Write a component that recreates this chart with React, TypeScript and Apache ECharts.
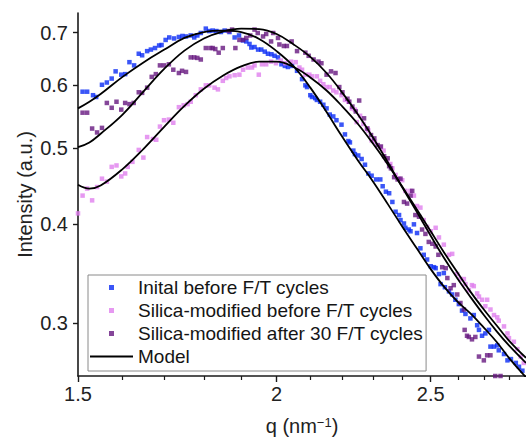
import React, { useEffect, useRef } from 'react';
import * as echarts from 'echarts';

const seriesNames = [
  'Inital before F/T cycles',
  'Silica-modified before F/T cycles',
  'Silica-modified after 30 F/T cycles',
  'Model',
];

const initialData: number[][] = [
  [1.510, 0.589], [1.520, 0.589], [1.533, 0.583], [1.540, 0.580], [1.553, 0.601], [1.564, 0.605],
  [1.575, 0.612], [1.584, 0.625], [1.597, 0.619], [1.606, 0.620], [1.616, 0.642], [1.627, 0.636],
  [1.638, 0.658], [1.646, 0.655], [1.658, 0.663], [1.667, 0.666], [1.677, 0.669], [1.687, 0.674],
  [1.693, 0.675], [1.703, 0.685], [1.712, 0.690], [1.724, 0.688], [1.736, 0.691], [1.745, 0.693],
  [1.754, 0.692], [1.766, 0.694], [1.775, 0.690], [1.783, 0.694], [1.792, 0.699], [1.805, 0.708],
  [1.814, 0.703], [1.823, 0.704], [1.833, 0.703], [1.845, 0.701], [1.855, 0.704], [1.868, 0.701],
  [1.882, 0.690], [1.894, 0.694], [1.905, 0.684], [1.914, 0.682], [1.923, 0.677], [1.928, 0.670],
  [1.937, 0.671], [1.947, 0.666], [1.956, 0.666], [1.966, 0.662], [1.975, 0.658], [1.985, 0.657],
  [1.994, 0.654], [2.004, 0.651], [2.014, 0.638], [2.024, 0.635], [2.033, 0.633], [2.045, 0.635],
  [2.060, 0.626], [2.075, 0.611], [2.085, 0.600], [2.090, 0.597], [2.100, 0.583], [2.105, 0.580],
  [2.115, 0.578], [2.120, 0.575], [2.130, 0.572], [2.140, 0.567], [2.150, 0.561], [2.160, 0.551],
  [2.171, 0.548], [2.181, 0.542], [2.197, 0.535], [2.208, 0.520], [2.219, 0.510], [2.224, 0.508],
  [2.235, 0.496], [2.240, 0.491], [2.251, 0.489], [2.262, 0.484], [2.273, 0.476], [2.284, 0.464],
  [2.295, 0.461], [2.310, 0.456], [2.324, 0.456], [2.332, 0.447], [2.343, 0.440], [2.354, 0.438],
  [2.365, 0.427], [2.376, 0.415], [2.388, 0.411], [2.393, 0.405], [2.405, 0.401], [2.410, 0.396],
  [2.422, 0.394], [2.428, 0.392], [2.440, 0.400], [2.451, 0.390], [2.463, 0.373], [2.475, 0.366],
  [2.487, 0.361], [2.500, 0.354], [2.512, 0.353], [2.518, 0.352], [2.530, 0.346], [2.536, 0.336],
  [2.548, 0.347], [2.552, 0.333], [2.567, 0.329], [2.579, 0.326], [2.591, 0.321], [2.604, 0.317],
  [2.616, 0.311], [2.629, 0.308], [2.648, 0.304], [2.661, 0.307], [2.674, 0.298], [2.681, 0.294],
  [2.693, 0.289], [2.706, 0.291], [2.720, 0.294], [2.726, 0.280], [2.740, 0.280], [2.753, 0.281],
  [2.759, 0.277], [2.780, 0.274], [2.794, 0.269], [2.808, 0.270], [2.828, 0.267], [2.841, 0.264],
  [2.855, 0.261],
];

const silicaBeforeData: number[][] = [
  [1.500, 0.413], [1.510, 0.435], [1.520, 0.444], [1.531, 0.429], [1.542, 0.446], [1.553, 0.457],
  [1.564, 0.453], [1.575, 0.473], [1.586, 0.475], [1.597, 0.460], [1.606, 0.464], [1.612, 0.473],
  [1.623, 0.480], [1.638, 0.497], [1.649, 0.486], [1.658, 0.516], [1.672, 0.513], [1.680, 0.512],
  [1.689, 0.532], [1.699, 0.542], [1.711, 0.543], [1.722, 0.538], [1.736, 0.563], [1.748, 0.566],
  [1.758, 0.568], [1.766, 0.572], [1.779, 0.583], [1.792, 0.593], [1.805, 0.600], [1.814, 0.600],
  [1.828, 0.596], [1.837, 0.593], [1.850, 0.608], [1.859, 0.613], [1.868, 0.616], [1.882, 0.618],
  [1.895, 0.619], [1.905, 0.628], [1.918, 0.632], [1.930, 0.632], [1.937, 0.636], [1.949, 0.619],
  [1.958, 0.638], [1.970, 0.638], [1.984, 0.643], [1.998, 0.640], [2.012, 0.645], [2.025, 0.640],
  [2.042, 0.643], [2.056, 0.642], [2.067, 0.632], [2.075, 0.628], [2.085, 0.619], [2.097, 0.619],
  [2.105, 0.616], [2.120, 0.616], [2.130, 0.608], [2.140, 0.602], [2.150, 0.597], [2.160, 0.597],
  [2.171, 0.591], [2.181, 0.588], [2.197, 0.583], [2.208, 0.575], [2.219, 0.572], [2.230, 0.561],
  [2.240, 0.559], [2.246, 0.539], [2.257, 0.549], [2.268, 0.536], [2.279, 0.529], [2.284, 0.526],
  [2.295, 0.511], [2.306, 0.509], [2.324, 0.501], [2.335, 0.496], [2.346, 0.482], [2.358, 0.477],
  [2.365, 0.471], [2.376, 0.462], [2.388, 0.457], [2.399, 0.455], [2.410, 0.441], [2.428, 0.441],
  [2.440, 0.435], [2.451, 0.422], [2.463, 0.420], [2.475, 0.405], [2.487, 0.397], [2.500, 0.392],
  [2.518, 0.396], [2.530, 0.385], [2.548, 0.377], [2.567, 0.366], [2.579, 0.367], [2.598, 0.346],
  [2.610, 0.341], [2.623, 0.341], [2.629, 0.336], [2.642, 0.330], [2.654, 0.335], [2.661, 0.334],
  [2.674, 0.327], [2.681, 0.324], [2.693, 0.321], [2.706, 0.315], [2.713, 0.321], [2.726, 0.312],
  [2.740, 0.307], [2.753, 0.305], [2.759, 0.302], [2.780, 0.297], [2.794, 0.291], [2.800, 0.287],
  [2.820, 0.284], [2.834, 0.278], [2.848, 0.272], [2.861, 0.267],
];

const silicaAfterData: number[][] = [
  [1.510, 0.554], [1.520, 0.554], [1.531, 0.529], [1.542, 0.523], [1.553, 0.530], [1.564, 0.570],
  [1.575, 0.562], [1.586, 0.572], [1.597, 0.559], [1.606, 0.570], [1.616, 0.568], [1.626, 0.570],
  [1.638, 0.588], [1.646, 0.587], [1.658, 0.596], [1.669, 0.615], [1.679, 0.620], [1.689, 0.636],
  [1.699, 0.636], [1.711, 0.638], [1.722, 0.628], [1.736, 0.622], [1.744, 0.626], [1.754, 0.624],
  [1.766, 0.651], [1.775, 0.651], [1.783, 0.650], [1.792, 0.647], [1.805, 0.669], [1.817, 0.669],
  [1.823, 0.669], [1.830, 0.667], [1.839, 0.660], [1.850, 0.669], [1.866, 0.703], [1.875, 0.706],
  [1.884, 0.669], [1.895, 0.685], [1.905, 0.685], [1.914, 0.689], [1.925, 0.694], [1.937, 0.706],
  [1.946, 0.699], [1.961, 0.692], [1.970, 0.697], [1.984, 0.682], [1.990, 0.699], [2.004, 0.689],
  [2.008, 0.676], [2.021, 0.673], [2.030, 0.673], [2.044, 0.682], [2.060, 0.663], [2.085, 0.660],
  [2.095, 0.654], [2.110, 0.647], [2.125, 0.643], [2.134, 0.640], [2.150, 0.619], [2.164, 0.625],
  [2.178, 0.622], [2.190, 0.597], [2.200, 0.588], [2.216, 0.577], [2.222, 0.572], [2.232, 0.564],
  [2.243, 0.556], [2.254, 0.574], [2.270, 0.545], [2.281, 0.529], [2.293, 0.519], [2.304, 0.514],
  [2.315, 0.504], [2.326, 0.502], [2.337, 0.488], [2.349, 0.485], [2.354, 0.474], [2.360, 0.471],
  [2.371, 0.459], [2.383, 0.456], [2.393, 0.457], [2.405, 0.427], [2.416, 0.425], [2.428, 0.435],
  [2.434, 0.441], [2.445, 0.411], [2.458, 0.409], [2.469, 0.394], [2.481, 0.389], [2.493, 0.380],
  [2.506, 0.378], [2.518, 0.375], [2.528, 0.366], [2.542, 0.353], [2.555, 0.352], [2.561, 0.342],
  [2.573, 0.332], [2.585, 0.335], [2.598, 0.326], [2.610, 0.318], [2.623, 0.312], [2.626, 0.294],
  [2.635, 0.289], [2.642, 0.288], [2.654, 0.286], [2.667, 0.288], [2.681, 0.272], [2.700, 0.269],
  [2.713, 0.273], [2.726, 0.273], [2.745, 0.257], [2.766, 0.257],
];

const modelQ = [1.50, 1.525, 1.55, 1.60, 1.65, 1.70, 1.75, 1.80, 1.85, 1.90, 1.95, 2.00, 2.05, 2.10, 2.15,
  2.20, 2.25, 2.30, 2.35, 2.40, 2.45, 2.50, 2.55, 2.60, 2.65, 2.70, 2.75, 2.80, 2.87];
const modelInitial = [0.561, 0.572, 0.585, 0.615, 0.642, 0.666, 0.689, 0.701, 0.704, 0.701, 0.687, 0.663,
  0.634, 0.596, 0.555, 0.516, 0.482, 0.453, 0.424, 0.397, 0.373, 0.351, 0.333, 0.319, 0.308, 0.296,
  0.284, 0.271, 0.256];
const modelSilicaBefore = [0.449, 0.444, 0.448, 0.470, 0.499, 0.532, 0.565, 0.594, 0.617, 0.634, 0.643,
  0.643, 0.633, 0.614, 0.591, 0.564, 0.536, 0.506, 0.476, 0.446, 0.418, 0.392, 0.368, 0.347, 0.328,
  0.312, 0.298, 0.285, 0.271];
const modelSilicaAfter = [0.501, 0.508, 0.521, 0.551, 0.590, 0.630, 0.664, 0.688, 0.702, 0.708, 0.707,
  0.697, 0.676, 0.652, 0.622, 0.587, 0.551, 0.515, 0.479, 0.445, 0.415, 0.387, 0.362, 0.341, 0.323,
  0.307, 0.293, 0.281, 0.267];

const xLabelTicks = [1.5, 2, 2.5];
const xMinorTicks = [1.6, 1.7, 1.8, 1.9, 2.1, 2.2, 2.3, 2.4, 2.6, 2.7, 2.8];
const yLabelTicks = [0.3, 0.4, 0.5, 0.6, 0.7];

const COLORS = ['#0a2cf5', '#e080ee', '#661880', '#000000'];
const FONT = 'Liberation Sans, Arial, sans-serif';

function pairUp(q: number[], v: number[]) {
  return q.map((x, i) => [x, v[i]]);
}

export default function App() {
  const ref = useRef<HTMLDivElement>(null);
  useEffect(() => {
    if (!ref.current) return;
    const chart = echarts.init(ref.current, undefined, { renderer: 'svg' });
    const fmt = (v: number) => String(Math.round(v * 100) / 100);
    const xCommon = {
      type: 'log',
      logBase: 10,
      min: 1.5,
      max: 2.87,
      splitLine: { show: false },
      minorTick: { show: false },
      minorSplitLine: { show: false },
    };
    const squareIcon = 'path://M0,0h10v10h-10z';
    const lineIcon = 'path://M0,0H43V2H0Z';
    const option: any = {
      animation: false,
      backgroundColor: '#ffffff',
      grid: { left: 78, right: 0, top: 13, bottom: 61.7, containLabel: false },
      legend: {
        orient: 'vertical',
        left: 88,
        top: 275,
        itemWidth: 43,
        itemHeight: 5,
        itemGap: 4,
        padding: [3, 3, 5, 2],
        borderColor: '#8a8a8a',
        borderWidth: 1,
        textStyle: { fontSize: 19, fontFamily: FONT, color: '#151515' },
        data: [
          { name: seriesNames[0], icon: squareIcon },
          { name: seriesNames[1], icon: squareIcon },
          { name: seriesNames[2], icon: squareIcon },
          { name: seriesNames[3], icon: lineIcon, itemStyle: { color: '#000' } },
        ],
      },
      xAxis: [
        {
          ...xCommon,
          name: 'q (nm{sup|−1})',
          nameLocation: 'middle',
          nameGap: 40,
          nameMoveOverlap: false,
          nameTextStyle: {
            fontSize: 20,
            fontFamily: FONT,
            color: '#222',
            rich: { sup: { fontSize: 13, fontFamily: FONT, color: '#222', verticalAlign: 'top', lineHeight: 12 } },
          },
          axisLine: { show: true, lineStyle: { color: '#1a1a1a', width: 1.6 } },
          axisTick: { show: true, inside: false, length: 6, customValues: xLabelTicks, lineStyle: { color: '#1a1a1a', width: 1.4 } },
          axisLabel: { show: true, customValues: xLabelTicks, fontSize: 20, fontFamily: FONT, color: '#222', margin: 8, formatter: fmt },
        },
        {
          ...xCommon,
          position: 'bottom',
          axisLine: { show: false },
          axisTick: { show: true, inside: false, length: 4, customValues: xMinorTicks, lineStyle: { color: '#1a1a1a', width: 1.2 } },
          axisLabel: { show: false },
        },
      ],
      yAxis: {
        type: 'log',
        logBase: 10,
        min: 0.257,
        max: 0.741,
        name: 'Intensity (a.u.)',
        nameLocation: 'middle',
        nameGap: 43,
        nameMoveOverlap: false,
        nameTextStyle: { fontSize: 20, fontFamily: FONT, color: '#222' },
        splitLine: { show: false },
        minorTick: { show: false },
        axisLine: { show: true, lineStyle: { color: '#1a1a1a', width: 1.6 } },
        axisTick: { show: true, inside: false, length: 5, customValues: yLabelTicks, lineStyle: { color: '#1a1a1a', width: 1.4 } },
        axisLabel: { show: true, customValues: yLabelTicks, fontSize: 20, fontFamily: FONT, color: '#222', margin: 10, formatter: fmt },
      },
      series: [
        { name: seriesNames[0], type: 'scatter', data: initialData, symbol: 'rect', symbolSize: 4.5, itemStyle: { color: COLORS[0] } },
        { name: seriesNames[1], type: 'scatter', data: silicaBeforeData, symbol: 'rect', symbolSize: 4.5, itemStyle: { color: COLORS[1] } },
        { name: seriesNames[2], type: 'scatter', data: silicaAfterData, symbol: 'rect', symbolSize: 4.5, itemStyle: { color: COLORS[2] } },
        { name: seriesNames[3], type: 'line', data: pairUp(modelQ, modelInitial), smooth: 0.4, showSymbol: false, symbol: 'none', lineStyle: { color: '#000', width: 1.8 }, itemStyle: { color: '#000' } },
        { name: seriesNames[3], type: 'line', data: pairUp(modelQ, modelSilicaBefore), smooth: 0.4, showSymbol: false, symbol: 'none', lineStyle: { color: '#000', width: 1.8 }, itemStyle: { color: '#000' } },
        { name: seriesNames[3], type: 'line', data: pairUp(modelQ, modelSilicaAfter), smooth: 0.4, showSymbol: false, symbol: 'none', lineStyle: { color: '#000', width: 1.8 }, itemStyle: { color: '#000' } },
      ],
    };
    chart.setOption(option);
    return () => chart.dispose();
  }, []);
  return <div ref={ref} style={{ width: 526, height: 441, position: 'absolute', left: 0, top: 0 }} />;
}
